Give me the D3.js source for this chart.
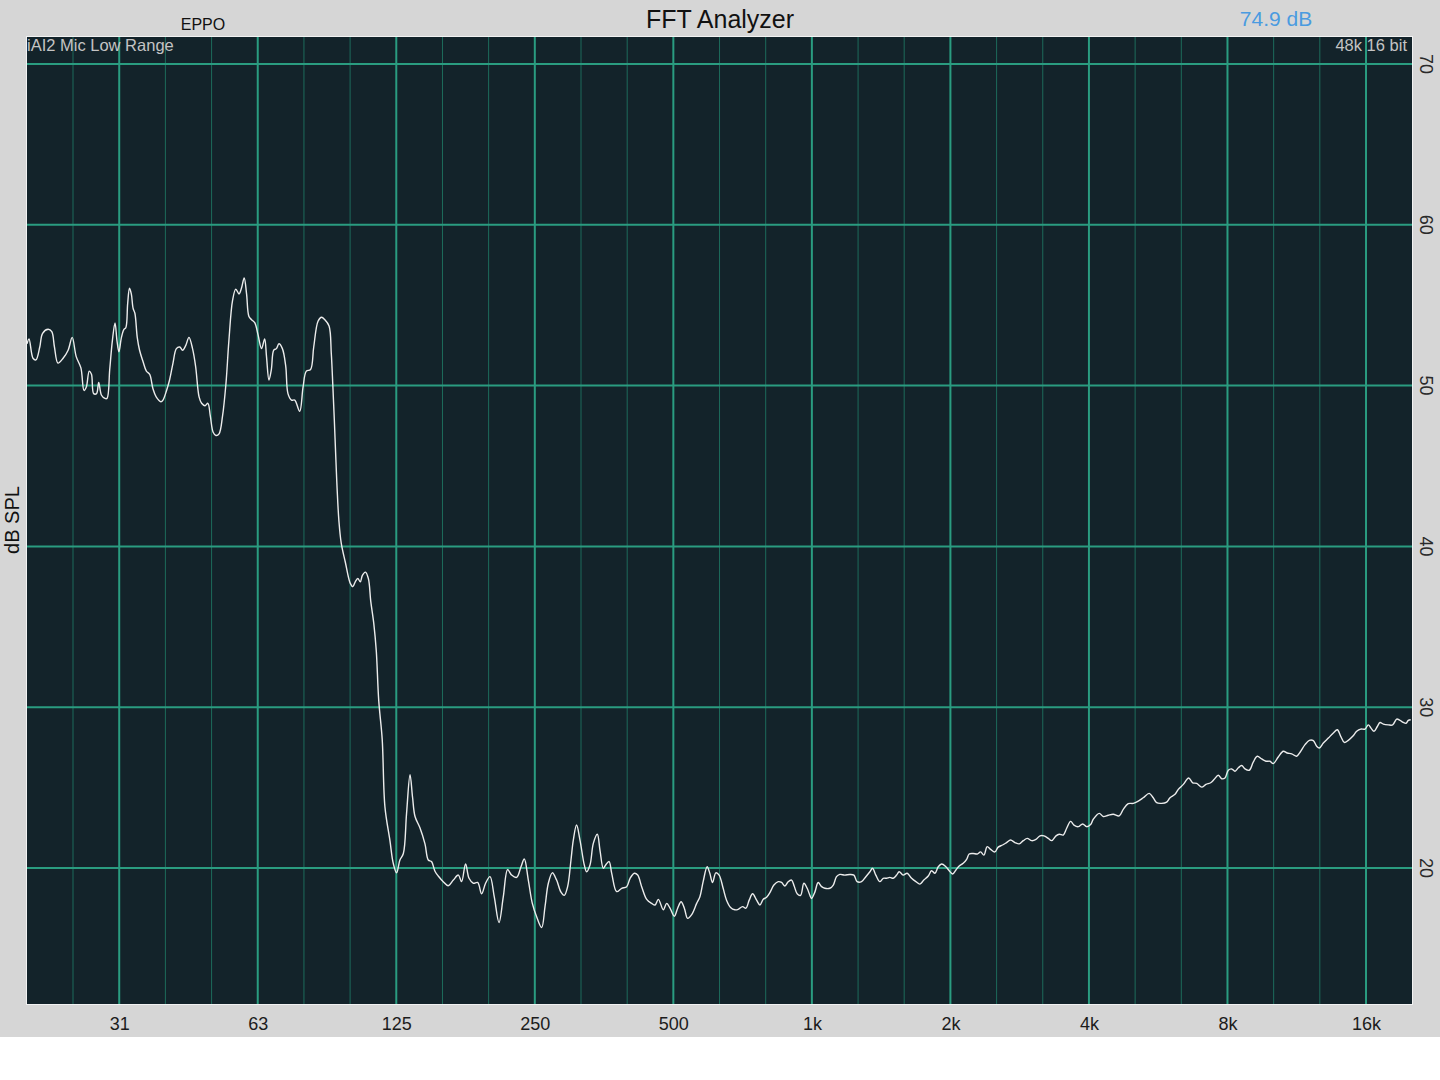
<!DOCTYPE html>
<html><head><meta charset="utf-8">
<script src="https://cdn.jsdelivr.net/npm/d3@7"></script>
<style>html,body{margin:0;padding:0;background:#fff;} svg{display:block;}</style>
</head><body><svg id="c" width="1440" height="1080"></svg>
<script>
// ---- data ----
const freqHz = [
19.7,19.9,20.3,20.6,21.0,21.3,21.9,22.3,22.6,23.0,23.6,24.2,24.7,25.2,25.8,26.2,26.5,26.9,27.2,27.5,
27.9,28.2,28.6,29.1,29.4,29.8,30.2,30.6,30.9,31.2,31.6,32.0,32.3,32.6,32.9,33.2,33.5,33.8,34.2,34.6,
35.2,35.8,36.4,37.0,37.6,38.5,38.9,39.6,40.2,40.9,41.6,42.3,42.9,43.6,44.3,45.1,45.8,46.6,47.2,48.0,
48.7,49.3,50.0,50.7,51.5,52.4,53.3,54.1,55.1,56.0,56.9,57.6,58.4,59.1,59.8,60.6,61.6,62.6,63.7,64.7,
65.3,66.1,66.9,67.7,68.6,69.5,70.7,71.9,72.7,74.0,75.2,77.1,78.4,79.7,81.4,82.7,84.5,86.0,87.4,89.3,
90.3,91.0,91.7,92.4,93.0,93.8,94.9,96.9,99.3,100.6,101.8,103.1,104.4,105.5,107.1,108.7,110.0,111.7,113.1,114.5,
116.5,118.1,121.1,123.1,125.2,127.3,129.5,131.6,133.9,135.6,137.3,140.7,144.3,146.7,149.1,151.7,154.2,158.1,162.1,166.3,
170.5,173.3,176.8,179.9,183.8,187.8,191.6,195.4,199.8,204.1,209.0,213.5,218.2,222.6,228.3,233.3,237.2,242.0,246.9,252.3,
258.7,263.1,267.5,272.9,278.8,285.0,289.7,294.6,299.6,303.1,308.1,313.4,320.2,323.9,329.5,335.0,341.8,346.4,352.2,356.4,
362.5,367.3,376.6,386.1,395.9,402.7,411.5,418.3,426.7,437.6,448.6,456.3,463.9,475.6,483.5,491.8,502.5,510.9,519.7,528.3,
537.1,548.0,561.9,570.8,580.4,592.1,600.1,608.3,618.5,628.7,641.5,652.5,665.7,680.2,691.5,706.9,718.8,730.8,743.3,758.4,
771.0,783.9,797.3,810.5,826.9,845.0,859.4,873.8,888.2,903.4,915.2,929.1,945.0,960.8,976.8,990.0,998.5,1015,1032,1050,
1067,1094,1113,1131,1150,1179,1209,1234,1254,1282,1310,1337,1355,1377,1405,1429,1453,1477,1502,1528,
1548,1579,1611,1647,1683,1717,1751,1790,1820,1851,1882,1914,1955,1988,2022,2056,2090,2132,2169,2197,
2242,2287,2326,2365,2404,2445,2499,2540,2597,2649,2703,2762,2822,2880,2938,3004,3069,3131,3194,3264,
3320,3392,3448,3518,3578,3650,3711,3792,3876,3954,4034,4087,4212,4297,4406,4517,4654,4749,4869,4992,
5119,5249,5408,5518,5613,5756,5902,6001,6153,6255,6414,6589,6723,6859,7033,7184,7354,7478,7640,7771,
7901,8032,8170,8306,8445,8589,8732,8922,9100,9285,9491,9698,9895,10059,10314,10576,10789,11030,11309,11502,
11792,12049,12293,12503,12667,12924,13251,13587,13861,14100,14354,14643,14970,15272,15581,15920,16185,16405,16654,16931,
17162,17446,17890,18284,18653,18966,19280,19544,19770,20008
];
const splDb = [
52.6,52.9,51.7,51.6,52.4,53.25,53.5,53.35,52.4,51.4,51.7,52.2,53.0,51.8,51.1,49.7,49.9,50.9,50.7,49.5,
49.5,50.2,49.4,49.2,49.2,51.0,52.8,53.9,52.8,52.1,53.0,53.5,53.6,55.1,56.05,55.7,54.8,54.5,53.0,52.2,
51.5,50.9,50.7,49.8,49.3,49.0,49.1,49.7,50.35,51.4,52.3,52.4,52.2,52.5,53.0,52.3,51.2,49.3,48.9,48.75,
48.9,48.1,47.1,46.9,47.0,48.1,50.1,52.8,55.3,56.0,55.7,56.05,56.7,55.7,54.3,54.1,53.9,53.15,52.3,52.9,
51.8,50.35,51.0,52.2,52.3,52.6,52.3,51.2,49.5,49.1,49.1,48.4,49.9,50.9,51.0,52.4,54.0,54.25,54.1,53.7,
52.0,50.0,47.8,45.4,43.5,41.6,40.2,39.0,37.7,37.5,37.8,38.0,37.8,38.2,38.4,38.0,36.6,35.2,33.5,30.4,
28.0,23.8,21.7,20.3,19.7,20.5,20.9,23.4,25.8,24.4,23.2,22.5,21.5,20.5,20.4,19.8,19.5,19.15,18.9,19.25,
19.56,19.15,20.25,19.36,19.05,19.1,18.4,19.05,19.46,18.2,16.6,18.2,19.9,19.56,19.42,20.08,20.56,19.25,17.8,16.97,
16.3,17.6,19.05,19.7,19.25,18.5,18.3,18.84,20.5,21.74,22.67,21.74,20.19,19.77,20.19,21.53,22.1,21.1,19.98,20.19,
20.4,19.67,18.53,18.74,18.84,19.36,19.67,19.56,18.84,18.05,17.8,17.7,18.05,17.4,17.8,17.5,17.0,17.5,17.9,17.5,
16.87,17.1,17.8,18.2,19.15,20.08,19.67,19.1,19.7,19.56,18.74,18.0,17.55,17.4,17.43,17.6,17.5,18.0,18.4,18.0,
17.7,18.05,18.18,18.47,18.94,19.15,19.1,18.88,19.15,19.25,18.88,18.4,18.3,19.05,18.74,18.3,18.1,18.5,19.1,18.84,
18.74,18.74,18.94,19.46,19.6,19.56,19.6,19.56,19.15,19.15,19.46,19.77,19.98,19.56,19.15,19.36,19.36,19.42,19.36,19.56,
19.77,19.56,19.67,19.36,19.15,19.0,19.25,19.5,19.83,19.67,20.08,20.25,20.08,19.83,19.63,19.88,20.12,20.29,20.54,20.87,
20.9,20.87,21.0,20.8,21.33,21.16,21.0,21.3,21.43,21.58,21.74,21.58,21.5,21.7,21.84,21.7,21.78,22.0,22.0,21.84,
21.7,22.0,22.1,22.05,22.47,22.9,22.67,22.57,22.74,22.57,22.7,23.03,23.4,23.2,23.28,23.34,23.24,23.65,24.0,24.02,
24.16,24.37,24.64,24.37,24.06,24.02,24.1,24.37,24.58,24.89,25.2,25.6,25.3,25.26,25.03,25.2,25.3,25.5,25.77,25.55,
25.6,26.08,26.16,26.02,26.23,26.37,26.16,26.08,26.58,26.95,26.78,26.64,26.64,26.5,26.9,27.26,27.15,27.1,26.95,27.2,
27.67,27.94,27.92,27.57,27.46,27.77,28.08,28.4,28.6,28.19,27.81,27.94,28.19,28.5,28.64,28.64,28.9,28.7,28.5,28.8,
29.05,28.95,28.9,28.9,29.26,29.18,29.05,29.0,29.18,29.22
];
const yTicks = [20, 30, 40, 50, 60, 70];
const majorFreqs = [31.25, 62.5, 125, 250, 500, 1000, 2000, 4000, 8000, 16000];
const majorLabels = ['31', '63', '125', '250', '500', '1k', '2k', '4k', '8k', '16k'];
const minorFreqs = [24.8, 39.37, 49.61, 78.75, 99.21, 157.5, 198.4, 315, 396.9, 630, 793.7,
  1260, 1587, 2520, 3175, 5040, 6350, 10079, 12699];

// ---- layout ----
const L = 27, R = 1412, T = 37, B = 1004;
const svg = d3.select('#c');
const font = "'Liberation Sans', Arial, Helvetica, sans-serif";

svg.append('rect').attr('x', 0).attr('y', 0).attr('width', 1440).attr('height', 1080).attr('fill', '#ffffff');
svg.append('rect').attr('x', 0).attr('y', 0).attr('width', 1440).attr('height', 1037).attr('fill', '#d6d6d6');

const x = d3.scaleLog().domain([19.7, 20140]).range([L, R]);
const y = d3.scaleLinear().domain([20, 70]).range([868, 64]);

svg.append('defs').append('clipPath').attr('id', 'plotclip')
  .append('rect').attr('x', L).attr('y', T).attr('width', R - L).attr('height', B - T);

svg.append('rect').attr('x', L).attr('y', T).attr('width', R - L).attr('height', B - T).attr('fill', '#13232a');

const grid = svg.append('g').attr('clip-path', 'url(#plotclip)');
grid.selectAll('line.minor').data(minorFreqs).enter().append('line')
  .attr('x1', d => x(d)).attr('x2', d => x(d)).attr('y1', T).attr('y2', B)
  .attr('stroke', '#1d6b5b').attr('stroke-width', 1);
grid.selectAll('line.major').data(majorFreqs).enter().append('line')
  .attr('x1', d => x(d)).attr('x2', d => x(d)).attr('y1', T).attr('y2', B)
  .attr('stroke', '#2a9c80').attr('stroke-width', 2);
grid.selectAll('line.h').data(yTicks).enter().append('line')
  .attr('x1', L).attr('x2', R).attr('y1', d => y(d)).attr('y2', d => y(d))
  .attr('stroke', '#2a9c80').attr('stroke-width', 2);

const pts = freqHz.map((f, i) => [f, splDb[i]]);
const line = d3.line().x(d => x(d[0])).y(d => y(d[1])).curve(d3.curveCatmullRom.alpha(0.5));
svg.append('g').attr('clip-path', 'url(#plotclip)').append('path')
  .attr('d', line(pts)).attr('fill', 'none').attr('stroke', '#ececec').attr('stroke-width', 1.4)
  .attr('stroke-linejoin', 'round');

svg.append('rect').attr('x', L - 0.5).attr('y', T - 0.5).attr('width', R - L + 1).attr('height', B - T + 1)
  .attr('fill', 'none').attr('stroke', '#f2f2f2').attr('stroke-width', 1);

// bottom axis labels
const xAxis = d3.axisBottom(x).tickValues(majorFreqs).tickFormat((d, i) => majorLabels[i]).tickSize(0).tickPadding(0);
const gx = svg.append('g').attr('transform', `translate(0,${B})`).call(xAxis);
gx.select('.domain').remove();
gx.selectAll('text').attr('y', 26).attr('dy', 0).attr('font-family', font).attr('font-size', 18).attr('fill', '#1c1c1c');

// right axis labels (rotated)
svg.selectAll('text.yl').data(yTicks).enter().append('text')
  .attr('transform', d => `translate(1426,${y(d)}) rotate(90)`)
  .attr('text-anchor', 'middle').attr('dy', '0.35em')
  .attr('font-family', font).attr('font-size', 18).attr('fill', '#2a2a2a')
  .text(d => d);

// titles
svg.append('text').attr('x', 720).attr('y', 28).attr('text-anchor', 'middle')
  .attr('font-family', font).attr('font-size', 25).attr('fill', '#111').text('FFT Analyzer');
svg.append('text').attr('x', 203).attr('y', 30).attr('text-anchor', 'middle')
  .attr('font-family', font).attr('font-size', 16).attr('fill', '#111').text('EPPO');
svg.append('text').attr('x', 1276).attr('y', 26).attr('text-anchor', 'middle')
  .attr('font-family', font).attr('font-size', 21).attr('fill', '#4a9be0').text('74.9 dB');
svg.append('text').attr('x', 27).attr('y', 51)
  .attr('font-family', font).attr('font-size', 16.5).attr('fill', '#c4c4c4').text('iAI2 Mic Low Range');
svg.append('text').attr('x', 1407).attr('y', 51).attr('text-anchor', 'end')
  .attr('font-family', font).attr('font-size', 16.5).attr('fill', '#c4c4c4').text('48k 16 bit');
svg.append('text').attr('transform', 'translate(11.5,520) rotate(-90)').attr('text-anchor', 'middle')
  .attr('dy', '0.35em').attr('font-family', font).attr('font-size', 20).attr('fill', '#111').text('dB SPL');
</script></body></html>
